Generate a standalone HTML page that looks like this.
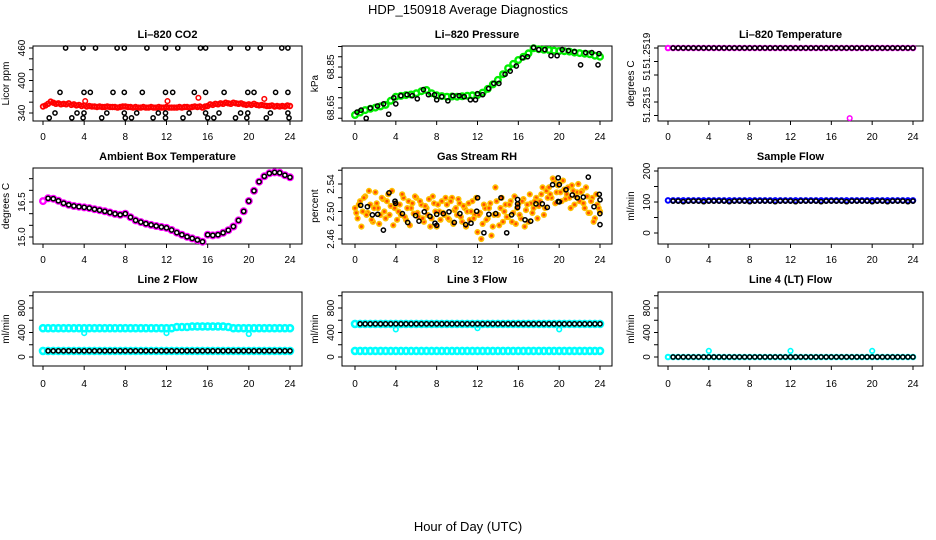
<!DOCTYPE html>
<html><head><meta charset="utf-8">
<style>
html,body{margin:0;padding:0;background:#fff;}
svg{display:block;font-family:"Liberation Sans",Arial,sans-serif;}
.tk{font-size:10px;fill:#000;}
.pt{font-size:11px;font-weight:bold;fill:#000;}
</style></head>
<body>
<svg id="chart" width="936" height="540" viewBox="0 0 936 540" xmlns="http://www.w3.org/2000/svg">
<text x="468" y="14" text-anchor="middle" font-size="13">HDP_150918  Average Diagnostics</text>
<text x="468" y="531" text-anchor="middle" font-size="13">Hour of Day (UTC)</text>
</svg>
<script>
// ---------- data ----------
const xTicks = [0,4,8,12,16,20,24];

const co2Red = [352,354,357,361,359,357,358,356,357,356,358,355,356,354,355,353,354,352,353,352,352,351,352,351,351,352,351,351,351,350,351,352,352,351,351,350,351,350,350,351,350,350,351,350,350,351,350,350,351,350,350,350,350,351,350,351,351,350,351,352,351,352,350,352,353,356,355,357,356,358,357,359,358,357,359,358,357,358,356,355,356,355,357,355,354,355,354,353,353,354,352,353,352,353,352,354,353];
const co2RedOutT = [4.1,12.1,15.1,21.5];
const co2RedOutV = [362,362,368,366];
const co2BlkT = [2.2,3.9,5.1,7.2,7.9,10.1,11.9,13.1,15.3,15.8,18.2,19.9,21.1,23.2,23.8,
 1.65,3.98,4.6,6.8,7.9,9.65,11.9,12.6,14.7,15.8,17.6,19.9,20.5,22.6,23.8,
 1.17,3.3,3.98,6.2,7.9,9.1,11.2,11.9,14.2,15.8,17.1,19.2,19.9,22.1,23.8,
 0.6,2.8,3.9,5.7,8.0,8.6,10.7,11.9,13.6,16.0,16.6,18.7,19.8,21.7,23.9];
const co2BlkV = [460,460,460,460,460,460,460,460,460,460,460,460,460,460,460,
 378,378,378,378,378,378,378,378,378,378,378,378,378,378,378,
 340,340,340,340,340,340,340,340,340,340,340,340,340,340,340,
 331,331,331,331,331,331,331,331,331,331,331,331,331,331,331];

const presGreen = [68.616,68.628,68.640,68.646,68.652,68.658,68.665,68.685,68.705,68.709,68.713,68.716,68.722,68.732,68.738,68.722,68.712,68.708,68.705,68.706,68.705,68.707,68.710,68.712,68.713,68.725,68.743,68.765,68.787,68.815,68.844,68.865,68.884,68.900,68.917,68.941,68.937,68.934,68.933,68.930,68.928,68.927,68.925,68.920,68.918,68.915,68.912,68.905,68.900];
const presBlkT = [0.2,0.6,1.1,1.5,2.2,2.8,3.3,3.8,4.0,4.5,5.1,5.6,6.1,6.7,7.2,7.8,8.0,8.5,9.1,9.6,10.2,10.7,11.3,11.8,12.0,12.5,13.1,13.6,14.1,14.7,15.2,15.8,16.4,16.9,17.5,18.0,18.6,19.2,19.8,20.3,20.9,21.5,22.1,22.6,23.2,23.8,23.9];
const presBlkV = [68.63,68.64,68.60,68.65,68.66,68.67,68.62,68.70,68.67,68.71,68.715,68.71,68.695,68.74,68.715,68.715,68.69,68.705,68.685,68.71,68.71,68.705,68.69,68.69,68.72,68.715,68.745,68.77,68.77,68.815,68.83,68.855,68.895,68.90,68.945,68.935,68.935,68.905,68.905,68.935,68.93,68.925,68.86,68.92,68.92,68.86,68.915];

const tempPink = [51.2519,51.2519,51.2519,51.2519,51.2519,51.2519,51.2519,51.2519,51.2519,51.2519,51.2519,51.2519,51.2519,51.2519,51.2519,51.2519,51.2519,51.2519,51.2519,51.2519,51.2519,51.2519,51.2519,51.2519,51.2519,51.2519,51.2519,51.2519,51.2519,51.2519,51.2519,51.2519,51.2519,51.2519,51.2519,51.2519,51.2519,51.2519,51.2519,51.2519,51.2519,51.2519,51.2519,51.2519,51.2519,51.2519,51.2519,51.2519,51.2519];
const tempOutT = [17.8];
const tempOutV = [51.25138];

const ambMag = [16.54,16.66,16.64,16.55,16.45,16.38,16.33,16.30,16.27,16.24,16.19,16.15,16.10,16.05,15.99,15.95,16.00,15.85,15.71,15.64,15.57,15.52,15.47,15.43,15.39,15.30,15.19,15.10,15.01,14.94,14.87,14.80,15.10,15.07,15.10,15.18,15.29,15.45,15.71,16.10,16.54,16.98,17.37,17.60,17.73,17.77,17.75,17.65,17.56];

const rhA = [2.505,2.490,2.515,2.500,2.522,2.498,2.510,2.485,2.528,2.505,2.495,2.518,2.490,2.525,2.508,2.480,2.512,2.500,2.495,2.520,2.488,2.515,2.505,2.497,2.520,2.492,2.510,2.485,2.505,2.518,2.490,2.512,2.478,2.500,2.515,2.495,2.510,2.488,2.520,2.502,2.495,2.512,2.485,2.505,2.500,2.488,2.515,2.495,2.470,2.498,2.482,2.505,2.490,2.512,2.478,2.535,2.495,2.505,2.485,2.510,2.492,2.515,2.498,2.482,2.510,2.490,2.518,2.502,2.485,2.512,2.505,2.520,2.508,2.525,2.495,2.530,2.535,2.520,2.545,2.528,2.540,2.515,2.532,2.525,2.520,2.538,2.510,2.528,2.515,2.530,2.505,2.522,2.498,2.520,2.490,2.510,2.500];
const rhB = [2.498,2.510,2.478,2.520,2.495,2.530,2.488,2.505,2.512,2.482,2.520,2.500,2.515,2.495,2.530,2.505,2.488,2.510,2.525,2.492,2.505,2.480,2.512,2.522,2.498,2.515,2.490,2.508,2.495,2.478,2.522,2.500,2.510,2.488,2.498,2.520,2.490,2.515,2.482,2.505,2.518,2.492,2.508,2.478,2.512,2.500,2.490,2.520,2.495,2.460,2.510,2.488,2.505,2.465,2.495,2.515,2.480,2.520,2.500,2.492,2.510,2.485,2.522,2.505,2.495,2.515,2.478,2.510,2.525,2.498,2.515,2.490,2.515,2.535,2.505,2.520,2.525,2.548,2.512,2.538,2.528,2.545,2.518,2.535,2.505,2.530,2.522,2.540,2.528,2.512,2.535,2.498,2.515,2.485,2.525,2.505];
const rhBlkT = [0.56,1.21,1.70,2.22,2.78,3.33,3.98,3.92,4.64,5.16,5.94,6.27,6.79,7.35,7.84,8.0,8.0,8.65,9.21,9.73,10.28,10.84,11.36,11.92,12.01,12.63,13.12,13.78,14.30,14.86,15.34,15.93,15.93,15.93,16.65,17.21,17.73,18.35,18.84,19.36,19.91,19.91,20.01,20.01,20.67,21.29,21.78,22.36,22.85,23.41,23.93,23.99,24.0,24.0];
const rhBlkV = [2.509,2.507,2.495,2.496,2.473,2.527,2.512,2.515,2.497,2.484,2.494,2.486,2.4995,2.493,2.483,2.480,2.496,2.497,2.4995,2.484,2.497,2.481,2.483,2.5005,2.520,2.469,2.496,2.497,2.520,2.469,2.495,2.5175,2.511,2.506,2.488,2.486,2.511,2.511,2.506,2.539,2.549,2.5145,2.539,2.514,2.5315,2.524,2.520,2.521,2.550,2.507,2.525,2.497,2.481,2.517];

const sampleBlue = [105,105,105,105,105,105,105,105,105,105,105,105,105,105,105,105,105,105,105,105,105,105,105,105,105,105,105,105,105,105,105,105,105,105,105,105,105,105,105,105,105,105,105,105,105,105,105,105,105];
const sampleBlk = [103,103,101,103,103,103,101,103,103,103,103,101,103,103,103,101,103,103,103,103,101,103,103,103,101,103,103,103,103,101,103,103,103,103,101,103,103,103,103,101,103,103,101,103,103,103,101,103];

const l2CyanHi = [470,470,470,470,470,470,470,470,470,470,470,470,470,470,470,470,470,470,470,470,470,470,470,470,470,470,490,490,490,500,500,500,500,500,500,500,490,470,470,470,470,470,470,470,470,470,470,470,470];
const l2CyanLo = [100,100,100,100,100,100,100,100,100,100,100,100,100,100,100,100,100,100,100,100,100,100,100,100,100,100,100,100,100,100,100,100,100,100,100,100,100,100,100,100,100,100,100,100,100,100,100,100,100];
const l2OutT = [4,12,20];
const l2OutV = [390,390,375];
const l2Blk = [100,100,100,100,100,100,100,100,100,100,100,100,100,100,100,100,100,100,100,100,100,100,100,100,100,100,100,100,100,100,100,100,100,100,100,100,100,100,100,100,100,100,100,100,100,100,100,100];

const l3CyanHi = [540,540,540,540,540,540,540,540,540,540,540,540,540,540,540,540,540,540,540,540,540,540,540,540,540,540,540,540,540,540,540,540,540,540,540,540,540,540,540,540,540,540,540,540,540,540,540,540,540];
const l3CyanLo = [100,100,100,100,100,100,100,100,100,100,100,100,100,100,100,100,100,100,100,100,100,100,100,100,100,100,100,100,100,100,100,100,100,100,100,100,100,100,100,100,100,100,100,100,100,100,100,100,100];
const l3OutT = [4,12,20];
const l3OutV = [450,470,450];
const l3Blk = [540,540,540,540,540,540,540,540,540,540,540,540,540,540,540,540,540,540,540,540,540,540,540,540,540,540,540,540,540,540,540,540,540,540,540,540,540,540,540,540,540,540,540,540,540,540,540,540];

const l4Cyan = [0,0,0,0,0,0,0,0,0,0,0,0,0,0,0,0,0,0,0,0,0,0,0,0,0,0,0,0,0,0,0,0,0,0,0,0,0,0,0,0,0,0,0,0,0,0,0,0,0];
const l4OutT = [4,12,20];
const l4OutV = [100,100,100];
const l4Blk = [0,0,0,0,0,0,0,0,0,0,0,0,0,0,0,0,0,0,0,0,0,0,0,0,0,0,0,0,0,0,0,0,0,0,0,0,0,0,0,0,0,0,0,0,0,0,0,0];

// ---------- drawing ----------
const NS = "http://www.w3.org/2000/svg";
const svg = document.getElementById("chart");
function mk(tag, attrs, parent){
  const e = document.createElementNS(NS, tag);
  for (const k in attrs) e.setAttribute(k, attrs[k]);
  (parent||svg).appendChild(e);
  return e;
}
const cols = [{bl:33,br:302,x0:43,x1:290},{bl:342,br:612,x0:355,x1:600},{bl:658,br:923,x0:668,x1:913}];
const rows = [{bt:46,bb:121,title:38,lab:140},{bt:168,bb:244,title:160,lab:263},{bt:292,bb:366,title:283,lab:387}];
function times(n, step, start){ const a=[]; for(let i=0;i<n;i++) a.push(start+i*step); return a; }

function panel(c, r, name, title, ytitle, yv1, yp1, yv2, yp2, ticks, labels){
  const C = cols[c], R = rows[r];
  const g = mk("g", {});
  
  
  const xs = h => C.x0 + (C.x1 - C.x0) * h / 24;
  const ys = v => yp1 + (v - yv1) * (yp2 - yp1) / (yv2 - yv1);
  const box = mk("rect", {x:C.bl, y:R.bt, width:C.br-C.bl, height:R.bb-R.bt, fill:"none", stroke:"#000", "stroke-width":1}, g);
  
  
  const t = mk("text", {x:(C.bl+C.br)/2, y:R.title, "text-anchor":"middle", class:"pt"}, g);
  t.textContent = title;
  
  
  const xa = mk("g", {}, g);
  
  
  mk("line", {x1:xs(0), x2:xs(24), y1:R.bb, y2:R.bb, stroke:"#000"}, xa);
  xTicks.forEach(h => {
    mk("line", {x1:xs(h), x2:xs(h), y1:R.bb, y2:R.bb+4, stroke:"#000"}, xa);
    const tl = mk("text", {x:xs(h), y:R.lab, "text-anchor":"middle", class:"tk"}, xa);
    tl.textContent = h;
  });
  const ya = mk("g", {}, g);
  
  
  ticks.forEach(v => {
    const y = ys(v);
    if (y < R.bt-1 || y > R.bb+1) return;
    mk("line", {x1:C.bl-4, x2:C.bl, y1:y, y2:y, stroke:"#000"}, ya);
  });
  labels.forEach(l => {
    const y = ys(l[0]);
    const tl = mk("text", {x:C.bl-8, y:y, "text-anchor":"middle", class:"tk", transform:`rotate(-90 ${C.bl-8} ${y})`}, ya);
    tl.textContent = l[1];
  });
  const yt = mk("text", {x:C.bl-24, y:(R.bt+R.bb)/2, "text-anchor":"middle", class:"tk", transform:`rotate(-90 ${C.bl-24} ${(R.bt+R.bb)/2})`}, g);
  yt.textContent = ytitle;
  
  
  return {g, xs, ys};
}
function series(P, name, ts, vs, color, rad, sw){
  const g = mk("g", {}, P.g);
  
  
  for (let i = 0; i < vs.length; i++){
    mk("circle", {cx:P.xs(ts[i]).toFixed(1), cy:P.ys(vs[i]).toFixed(1), r:rad, fill:"none", stroke:color, "stroke-width":sw}, g);
  }
}
function rhSeries(P, name, ts, vs){
  const g = mk("g", {}, P.g);
  
  
  for (let i = 0; i < vs.length; i++){
    mk("circle", {cx:P.xs(ts[i]).toFixed(1), cy:P.ys(vs[i]).toFixed(1), r:2.3, fill:"#ff5000", stroke:"#ffc000", "stroke-width":1.6}, g);
  }
}

// CO2
let P = panel(0,0,"co2","Li\u2013820 CO2","Licor ppm",340,113,460,48,[340,360,380,400,420,440,460],[[340,"340"],[400,"400"],[460,"460"]]);
series(P,"co2-red-series",times(97,0.25,0),co2Red,"#ff0000",2.3,1.8);
series(P,"co2-red-outliers",co2RedOutT,co2RedOutV,"#ff0000",2.3,1.5);
series(P,"co2-black-series",co2BlkT,co2BlkV,"#000",2.1,1.5);

// Pressure
P = panel(1,0,"pressure","Li\u2013820 Pressure","kPa",68.65,108,68.85,67,[68.60,68.65,68.70,68.75,68.80,68.85,68.90,68.95],[[68.65,"68.65"],[68.85,"68.85"]]);
series(P,"pressure-green-series",times(49,0.5,0),presGreen,"#00ee00",2.8,2.4);
series(P,"pressure-black-series",presBlkT,presBlkV,"#000",2.1,1.5);

// Li-820 temperature
P = panel(2,0,"li820-temp","Li\u2013820 Temperature","degrees C",51.2515,102,51.2519,48,[51.2514,51.2515,51.2517,51.2518,51.2519],[[51.25188,"51.2519"],[51.2517,"51"],[51.25148,"51.2515"]]);
series(P,"li820-temp-magenta-series",times(49,0.5,0),tempPink,"#ff00ff",2.3,2);
series(P,"li820-temp-outlier",tempOutT,tempOutV,"#ff00ff",2.3,1.5);
series(P,"li820-temp-black-series",times(48,0.5,0.5),tempPink.slice(1),"#000",2.1,1.5);

// Ambient box temperature
P = panel(0,1,"ambient-temp","Ambient Box Temperature","degrees C",15.0,237,16.5,202,[15.0,15.5,16.0,16.5,17.0,17.5],[[15.0,"15.0"],[16.5,"16.5"]]);
series(P,"ambient-temp-magenta-series",times(49,0.5,0),ambMag,"#ff00ff",2.8,2.4);
series(P,"ambient-temp-black-series",times(48,0.5,0.5),ambMag.slice(1),"#000",2.1,1.5);

// Gas stream RH
P = panel(1,1,"gas-rh","Gas Stream RH","percent",2.46,239,2.54,184,[2.46,2.48,2.50,2.52,2.54,2.56],[[2.46,"2.46"],[2.50,"2.50"],[2.54,"2.54"]]);
rhSeries(P,"gas-rh-orange-series-a",times(97,0.25,0),rhA);
rhSeries(P,"gas-rh-orange-series-b",times(96,0.25,0.125),rhB);
series(P,"gas-rh-black-series",rhBlkT,rhBlkV,"#000",2.1,1.5);

// Sample flow
P = panel(2,1,"sample-flow","Sample Flow","ml/min",0,233,200,171,[0,50,100,150,200],[[0,"0"],[100,"100"],[200,"200"]]);
series(P,"sample-flow-blue-series",times(49,0.5,0),sampleBlue,"#0000ff",2.3,2);
series(P,"sample-flow-black-series",times(48,0.5,0.5),sampleBlk,"#000",2.1,1.5);

// Line flows
const flowTicks = [0,200,400,600,800,1000];
const flowLabels = [[0,"0"],[400,"400"],[800,"800"]];
P = panel(0,2,"line2-flow","Line 2 Flow","ml/min",0,357,800,308,flowTicks,flowLabels);
series(P,"line2-cyan-high-series",times(49,0.5,0),l2CyanHi,"#00ffff",3,2.6);
series(P,"line2-cyan-low-series",times(49,0.5,0),l2CyanLo,"#00ffff",3,2.6);
series(P,"line2-cyan-outliers",l2OutT,l2OutV,"#00ffff",2.3,1.6);
series(P,"line2-black-series",times(48,0.5,0.5),l2Blk,"#000",2.1,1.5);

P = panel(1,2,"line3-flow","Line 3 Flow","ml/min",0,357,800,308,flowTicks,flowLabels);
series(P,"line3-cyan-high-series",times(49,0.5,0),l3CyanHi,"#00ffff",3,2.6);
series(P,"line3-cyan-low-series",times(49,0.5,0),l3CyanLo,"#00ffff",3,2.6);
series(P,"line3-cyan-outliers",l3OutT,l3OutV,"#00ffff",2.3,1.6);
series(P,"line3-black-series",times(48,0.5,0.5),l3Blk,"#000",2.1,1.5);

P = panel(2,2,"line4-flow","Line 4 (LT) Flow","ml/min",0,357,800,308,flowTicks,flowLabels);
series(P,"line4-cyan-series",times(49,0.5,0),l4Cyan,"#00ffff",2.3,2);
series(P,"line4-cyan-outliers",l4OutT,l4OutV,"#00ffff",2.3,1.6);
series(P,"line4-black-series",times(48,0.5,0.5),l4Blk,"#000",2.1,1.5);
</script>
</body></html>
